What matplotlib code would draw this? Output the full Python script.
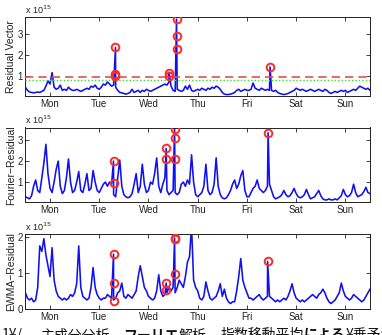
import matplotlib
matplotlib.use("Agg")
import matplotlib.pyplot as plt
import numpy as np

# ---------------- data (values in units of 1e15) ----------------
day_labels = ["Mon", "Tue", "Wed", "Thu", "Fri", "Sat", "Sun"]
day_ticks = [0.5, 1.5, 2.5, 3.5, 4.5, 5.5, 6.5]

# hourly samples, t = hour/24 (days), 0..7
resid_hourly = [
    0.45, 0.30, 0.22, 0.20, 0.18, 0.20, 0.22, 0.20, 0.25, 0.30, 0.50, 0.75, 0.60, 1.15, 0.45, 0.35, 0.40, 0.55, 0.30, 0.35, 0.30, 0.45, 0.35, 0.30,
    0.30, 0.35, 0.30, 0.25, 0.30, 0.35, 0.40, 0.35, 0.50, 0.45, 0.55, 0.40, 0.35, 0.45, 0.60, 0.55, 0.70, 0.60, 0.50, 0.55, 0.45, 0.30, 0.20, 0.18,
    0.15, 0.12, 0.15, 0.20, 0.35, 0.20, 0.25, 0.30, 0.20, 0.30, 0.25, 0.35, 0.30, 0.25, 0.30, 0.35, 0.40, 0.45, 0.50, 0.55, 0.60, 0.55, 0.70, 0.50,
    0.30, 0.25, 0.35, 0.30, 0.25, 0.30, 0.50, 0.35, 0.55, 0.30, 0.25, 0.30, 0.35, 0.30, 0.40, 0.35, 0.30, 0.40, 0.35, 0.45, 0.40, 0.50, 0.45, 0.35,
    0.20, 0.12, 0.10, 0.10, 0.12, 0.15, 0.20, 0.30, 0.35, 0.25, 0.30, 0.35, 0.30, 0.30, 0.35, 0.65, 0.40, 0.35, 0.30, 0.40, 0.35, 0.30, 0.35, 0.30,
    0.30, 0.25, 0.30, 0.20, 0.15, 0.12, 0.10, 0.12, 0.15, 0.20, 0.25, 0.30, 0.40, 0.35, 0.30, 0.35, 0.30, 0.25, 0.30, 0.35, 0.30, 0.25, 0.30, 0.35,
    0.30, 0.25, 0.35, 0.30, 0.20, 0.15, 0.20, 0.25, 0.20, 0.25, 0.30, 0.25, 0.30, 0.20, 0.25, 0.30, 0.35, 0.30, 0.40, 0.50, 0.45, 0.40, 0.35, 0.40,
    0.30,
]
resid_spike_t = [1.83, 2.92, 3.07, 4.97]
resid_spike_v = [2.35, 1.15, 3.70, 1.42]
resid_mark_t = [1.83, 1.83, 1.83, 2.92, 2.92, 3.07, 3.07, 3.07, 4.97]
resid_mark_v = [2.35, 1.10, 0.98, 1.15, 0.98, 3.70, 2.90, 2.28, 1.42]
resid_threshold_red = 0.94
resid_threshold_green = 0.80

fourier_hourly = [
    0.30, 0.25, 0.20, 0.35, 0.80, 1.10, 0.60, 0.50, 1.20, 1.90, 2.80, 1.40, 0.70, 0.50, 1.00, 1.60, 2.00, 0.80, 0.45, 0.60, 1.20, 2.10, 1.00, 0.50,
    0.60, 1.00, 1.50, 0.60, 0.50, 0.90, 1.40, 0.60, 0.70, 1.55, 1.00, 0.60, 0.50, 0.70, 0.90, 1.00, 0.80, 1.00, 0.90, 0.40, 0.30, 1.20, 2.05, 0.80,
    0.40, 0.30, 0.25, 0.30, 0.45, 0.90, 1.40, 0.50, 0.80, 1.85, 0.90, 0.50, 0.60, 1.00, 0.90, 1.40, 2.15, 0.80, 0.50, 0.90, 1.20, 0.60, 0.40, 0.50,
    0.60, 0.50, 0.40, 0.50, 0.90, 1.00, 0.80, 1.10, 0.90, 2.30, 1.00, 0.40, 0.30, 0.40, 0.50, 0.80, 1.85, 0.60, 0.40, 0.50, 0.90, 2.15, 0.80, 0.40,
    0.25, 0.20, 0.25, 0.40, 0.60, 0.90, 1.10, 0.70, 0.90, 1.30, 1.55, 0.60, 0.30, 0.30, 0.50, 0.70, 0.80, 1.10, 0.70, 0.60, 0.50, 0.60, 0.80, 0.90,
    0.60, 0.30, 0.20, 0.25, 0.30, 0.40, 0.60, 0.40, 0.30, 0.35, 0.50, 0.70, 0.45, 0.30, 0.25, 0.30, 0.40, 0.65, 0.40, 0.20, 0.25, 0.30, 0.45, 0.60,
    0.35, 0.20, 0.15, 0.15, 0.20, 0.15, 0.15, 0.20, 0.15, 0.25, 0.35, 0.65, 0.40, 0.30, 0.35, 0.50, 0.90, 0.50, 0.30, 0.35, 0.40, 0.55, 0.75, 0.50,
    0.45,
]
fourier_spike_t = [1.79, 2.86, 3.03, 4.93]
fourier_spike_v = [2.00, 2.60, 3.55, 3.35]
fourier_mark_t = [1.79, 1.79, 2.86, 2.86, 3.03, 3.03, 3.03, 4.93]
fourier_mark_v = [2.00, 0.95, 2.60, 2.10, 3.55, 3.10, 2.10, 3.35]

ewma_hourly = [
    0.45, 0.30, 0.25, 0.30, 0.20, 0.25, 0.60, 1.75, 1.60, 1.95, 1.50, 1.20, 0.90, 1.70, 0.80, 0.50, 0.35, 0.30, 0.25, 0.30, 0.25, 0.30, 0.40, 0.35,
    0.45, 0.70, 1.75, 0.60, 0.35, 0.30, 0.25, 0.30, 0.60, 1.15, 0.60, 0.40, 0.30, 0.25, 0.30, 0.30, 0.40, 0.35, 0.30, 0.25, 0.30, 0.45, 0.50, 0.72,
    0.35, 0.30, 0.40, 0.35, 0.30, 0.40, 0.50, 0.90, 1.20, 0.90, 0.60, 0.50, 0.35, 0.30, 0.25, 0.30, 0.50, 0.95, 0.50, 0.35, 0.40, 0.45, 0.60, 0.50,
    0.60, 0.45, 0.60, 0.80, 0.70, 0.60, 0.90, 1.30, 1.45, 2.30, 0.80, 0.60, 0.50, 0.30, 0.25, 0.35, 0.75, 0.50, 0.30, 0.25, 0.30, 0.35, 0.50, 0.70,
    0.35, 0.55, 0.30, 0.20, 0.15, 0.20, 0.20, 0.50, 0.90, 1.40, 0.80, 0.60, 0.45, 0.30, 0.30, 0.25, 0.30, 0.35, 0.40, 0.30, 0.25, 0.30, 0.35, 0.35,
    0.30, 0.25, 0.20, 0.25, 0.20, 0.25, 0.30, 0.25, 0.35, 0.50, 0.70, 0.45, 0.30, 0.25, 0.20, 0.25, 0.20, 0.25, 0.30, 0.35, 0.40, 0.35, 0.30, 0.40,
    0.45, 0.55, 0.45, 0.30, 0.20, 0.15, 0.20, 0.25, 0.35, 0.45, 0.72, 0.50, 0.35, 0.30, 0.25, 0.30, 0.40, 0.35, 0.30, 0.25, 0.20, 0.25, 0.35, 0.45,
    0.55,
]
ewma_spike_t = [1.79, 2.86, 3.03, 4.92]
ewma_spike_v = [1.52, 0.72, 1.97, 1.32]
ewma_mark_t = [1.79, 1.79, 1.79, 2.86, 2.86, 3.03, 3.03, 3.03, 4.92]
ewma_mark_v = [1.52, 0.72, 0.22, 0.72, 0.52, 1.97, 1.93, 0.98, 1.32]

ylabels = ["Residual Vector", "Fourier\u2212Residual", "EWMA\u2212Residual"]
caption_parts = [("1¥/", "normal"), ("主成分分析，", "normal"), ("フーリエ", "bold"),
                 ("解析，", "normal"), ("指数移動平均", "normal"), ("による", "bold"), ("¥乗予測", "normal")]

# ---------------- figure ----------------
plt.rcParams["font.family"] = ["Liberation Sans", "DejaVu Sans"]
W, H = 382, 335
fig = plt.figure(figsize=(W / 100, H / 100), dpi=100)

def frac_rect(top_px, bot_px, left_px=25.4, right_px=370.0):
    return [left_px / W, 1 - bot_px / H, (right_px - left_px) / W, (bot_px - top_px) / H]

def merged(hourly, st, sv):
    t = list(np.arange(len(hourly)) / 24.0) + list(st)
    v = list(hourly) + list(sv)
    order = np.argsort(t, kind="stable")
    return np.asarray(t)[order], np.asarray(v)[order]

panels = [
    dict(rect=frac_rect(17, 96), hourly=resid_hourly, st=resid_spike_t, sv=resid_spike_v,
         mt=resid_mark_t, mv=resid_mark_v, ylim=(0.03, 3.8), yticks=[1, 2, 3]),
    dict(rect=frac_rect(127.5, 202), hourly=fourier_hourly, st=fourier_spike_t, sv=fourier_spike_v,
         mt=fourier_mark_t, mv=fourier_mark_v, ylim=(0.05, 3.6), yticks=[1, 2, 3]),
    dict(rect=frac_rect(234, 309), hourly=ewma_hourly, st=ewma_spike_t, sv=ewma_spike_v,
         mt=ewma_mark_t, mv=ewma_mark_v, ylim=(0.0, 2.08), yticks=[0, 1, 2]),
]

for i, p in enumerate(panels):
    ax = fig.add_axes(p["rect"])
    t, v = merged(p["hourly"], p["st"], p["sv"])
    ax.plot(t, v, color="#1010f0", lw=1.15, zorder=2)
    if i == 0:
        ax.axhline(resid_threshold_red, color="#e8504a", lw=1.2, ls=(0, (5, 3)), zorder=3)
        ax.axhline(resid_threshold_green, color="#33dd33", lw=1.0, ls=(0, (1, 1.5)), zorder=3)
    ax.plot(p["mt"], p["mv"], ls="none", marker="o", ms=5.5, mfc="none",
            mec="#ff2a2a", mew=1.4, zorder=4)
    ax.set_xlim(0, 7)
    ax.set_ylim(*p["ylim"])
    ax.set_xticks(day_ticks)
    ax.set_xticklabels(day_labels)
    ax.set_yticks(p["yticks"])
    ax.tick_params(direction="in", length=3, width=0.6, top=True, right=True,
                   labelsize=7, pad=2, colors="#222222")
    for s in ax.spines.values():
        s.set_linewidth(0.7)
        s.set_color("#222222")
    ax.set_ylabel(ylabels[i], fontsize=7.5, color="#222222")
    ax.yaxis.set_label_coords(-0.026, 0.5)
    ax.text(0.0, 1.015, r"x 10$^{15}$", transform=ax.transAxes, fontsize=6.5,
            ha="left", va="bottom", color="#222222")

# caption (partially cut at bottom edge), laid out piece by piece
fig.canvas.draw()
renderer = fig.canvas.get_renderer()
x_px = 2.0
for k, (txt, wt) in enumerate(caption_parts):
    if k == 1:
        x_px = 40.0
    tt = fig.text(x_px / W, -0.012, txt, fontsize=10, fontweight=wt,
                  family=["Noto Sans CJK JP", "DejaVu Sans"], ha="left", va="baseline",
                  color="#111111")
    x_px += tt.get_window_extent(renderer).width

fig.savefig("out.png", dpi=100)
